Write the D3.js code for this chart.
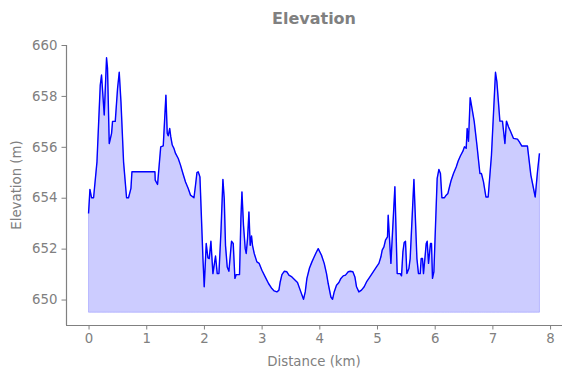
<!DOCTYPE html>
<html>
<head>
<meta charset="utf-8">
<script src="https://cdn.jsdelivr.net/npm/d3@7"></script>
<style>
  body { margin: 0; background: #fff; }
  svg text { font-family: "DejaVu Sans", sans-serif; fill: #808080; }
</style>
</head>
<body>
<div id="chart"></div>
<script>
// distance along the track (km)
const distance = [
  0, 0.024, 0.052, 0.087, 0.146, 0.203, 0.225, 0.272, 0.312, 0.329,
  0.359, 0.399, 0.416, 0.463, 0.503, 0.532, 0.562, 0.607, 0.659, 0.693,
  0.735, 0.752, 1.151, 1.156, 1.196, 1.251, 1.295, 1.341, 1.364, 1.381,
  1.407, 1.425, 1.451, 1.480, 1.508, 1.555, 1.594, 1.636, 1.681, 1.728,
  1.768, 1.827, 1.854, 1.879, 1.901, 1.931, 1.983, 2.005, 2.040, 2.069,
  2.092, 2.121, 2.156, 2.201, 2.231, 2.260, 2.295, 2.329, 2.352, 2.374,
  2.404, 2.433, 2.478, 2.508, 2.537, 2.560, 2.617, 2.641, 2.659, 2.686,
  2.716, 2.733, 2.756, 2.780, 2.802, 2.825, 2.842, 2.872, 2.918, 2.958,
  3.005, 3.062, 3.120, 3.178, 3.218, 3.265, 3.300, 3.322, 3.352, 3.392,
  3.438, 3.473, 3.525, 3.582, 3.622, 3.669, 3.726, 3.756, 3.785, 3.830,
  3.872, 3.912, 3.946, 3.981, 4.038, 4.085, 4.125, 4.154, 4.201, 4.229,
  4.258, 4.298, 4.340, 4.374, 4.414, 4.454, 4.501, 4.536, 4.582, 4.617,
  4.645, 4.686, 4.731, 4.778, 4.818, 4.877, 4.934, 4.991, 5.033, 5.068,
  5.090, 5.120, 5.147, 5.182, 5.194, 5.241, 5.310, 5.350, 5.402, 5.425,
  5.449, 5.471, 5.494, 5.518, 5.553, 5.575, 5.640, 5.692, 5.719, 5.749,
  5.766, 5.789, 5.806, 5.830, 5.853, 5.870, 5.893, 5.927, 5.945, 5.962,
  5.986, 6.043, 6.073, 6.100, 6.125, 6.170, 6.199, 6.229, 6.257, 6.286,
  6.326, 6.373, 6.407, 6.447, 6.489, 6.516, 6.546, 6.563, 6.586, 6.615,
  6.685, 6.732, 6.784, 6.811, 6.846, 6.888, 6.927, 6.984, 7.054, 7.078,
  7.130, 7.175, 7.217, 7.244, 7.279, 7.321, 7.366, 7.435, 7.465, 7.511,
  7.608, 7.667, 7.702, 7.742, 7.782, 7.816
];

// elevation (m)
const elevation = [
  653.38, 654.33, 654.0, 654.0, 655.41, 658.43, 658.82, 657.25, 659.5, 659.08,
  656.13, 656.53, 657.0, 657.0, 658.3, 658.93, 657.77, 655.41, 654.0, 654.0,
  654.37, 655.02, 655.02, 654.69, 654.52, 656.0, 656.04, 658.03, 656.53, 656.43,
  656.72, 656.4, 656.07, 655.94, 655.74, 655.54, 655.28, 654.95, 654.62, 654.36,
  654.10, 654.0, 654.49, 654.99, 655.02, 654.82, 651.61, 650.50, 652.2, 651.64,
  651.61, 652.29, 651.02, 651.71, 651.02, 651.02, 652.66, 654.72, 653.97, 652.13,
  651.28, 651.11, 652.29, 652.2, 650.83, 650.98, 650.98, 653.19, 654.23, 652.92,
  652.0, 651.81, 652.4, 653.44, 652.13, 652.5, 652.13, 651.81, 651.48, 651.42,
  651.15, 650.89, 650.63, 650.43, 650.34, 650.30, 650.37, 650.69, 650.98, 651.11,
  651.09, 650.96, 650.89, 650.76, 650.67, 650.37, 650.01, 650.30, 650.83, 651.24,
  651.48, 651.68, 651.85, 652.0, 651.74, 651.42, 651.02, 650.63, 650.10, 650.01,
  650.30, 650.56, 650.67, 650.83, 650.93, 650.96, 651.09, 651.11, 651.09, 650.89,
  650.50, 650.30, 650.37, 650.50, 650.69, 650.89, 651.09, 651.28, 651.42, 651.68,
  651.94, 652.07, 652.33, 652.46, 653.31, 651.42, 654.43, 651.02, 651.02, 650.93,
  651.87, 652.24, 652.29, 651.02, 651.22, 651.61, 654.72, 651.61, 651.02, 651.02,
  651.61, 651.61, 651.02, 651.61, 652.2, 652.29, 651.42, 652.2, 652.2, 650.83,
  651.09, 654.76, 655.11, 654.95, 654.0, 654.0, 654.10, 654.17, 654.43, 654.69,
  654.95, 655.21, 655.44, 655.65, 655.83, 656.0, 655.94, 656.72, 656.22, 657.93,
  657.0, 656.07, 654.95, 654.95, 654.62, 654.03, 654.03, 655.67, 658.93, 658.56,
  657.01, 657.01, 656.13, 657.01, 656.79, 656.57, 656.33, 656.30, 656.20, 656.03,
  656.03, 654.89, 654.49, 654.03, 655.02, 655.74
];

const xTicks = [0, 1, 2, 3, 4, 5, 6, 7, 8];
const yTicks = [650, 652, 654, 656, 658, 660];
const baseLevel = 649.5;

const points = distance.map((d, i) => ({dist: d, elev: elevation[i]}));

const width = 571, height = 378;
const margin = {top: 45, right: 9, bottom: 53, left: 66};
const fontSize = '13.3px';

const svg = d3.select('#chart')
  .append('svg')
    .attr('width', width)
    .attr('height', height);

// matplotlib-like 5% padding on x
const xMax = d3.max(distance);
const pad = xMax * 0.05;

const x = d3.scaleLinear()
  .domain([-pad, xMax + pad])
  .range([margin.left, width - margin.right]);

const y = d3.scaleLinear()
  .domain([649, 660])
  .range([height - margin.bottom, margin.top]);

// filled area under the profile
const area = d3.area()
  .x(d => x(d.dist))
  .y0(y(baseLevel))
  .y1(d => y(d.elev));

svg.append('path')
  .datum(points)
  .attr('d', area)
  .attr('fill', 'rgba(0,0,255,0.2)')
  .attr('stroke', 'rgba(0,0,255,0.2)')
  .attr('stroke-width', 1);

const line = d3.line()
  .x(d => x(d.dist))
  .y(d => y(d.elev));

svg.append('path')
  .datum(points)
  .attr('d', line)
  .attr('fill', 'none')
  .attr('stroke', '#0000ff')
  .attr('stroke-width', 1.4)
  .attr('stroke-linejoin', 'round');

// axes
const xAxis = svg.append('g')
  .attr('transform', `translate(0,${height - margin.bottom})`)
  .call(d3.axisBottom(x).tickValues(xTicks).tickFormat(d3.format('d')).tickSize(4.5).tickPadding(4));

const yAxis = svg.append('g')
  .attr('transform', `translate(${margin.left},0)`)
  .call(d3.axisLeft(y).tickValues(yTicks).tickFormat(d3.format('d')).tickSize(4.5).tickPadding(4));

[xAxis, yAxis].forEach(g => {
  g.select('.domain').attr('stroke', '#808080').attr('stroke-width', 1.2);
  g.selectAll('.tick line').attr('stroke', '#808080').attr('stroke-width', 1);
  g.selectAll('.tick text')
    .attr('fill', '#808080')
    .style('font-size', fontSize)
    .style('font-family', '"DejaVu Sans", sans-serif');
});
// no outer ticks on spines
xAxis.select('.domain').attr('d', `M${margin.left},0.5H${width - margin.right}`);
yAxis.select('.domain').attr('d', `M0.5,${margin.top}V${height - margin.bottom}`);

// labels
svg.append('text')
  .attr('x', (margin.left + width - margin.right) / 2)
  .attr('y', 366)
  .attr('text-anchor', 'middle')
  .style('font-size', fontSize)
  .text('Distance (km)');

svg.append('text')
  .attr('transform', `translate(21,${(margin.top + height - margin.bottom) / 2}) rotate(-90)`)
  .attr('text-anchor', 'middle')
  .style('font-size', fontSize)
  .text('Elevation (m)');

svg.append('text')
  .attr('x', (margin.left + width - margin.right) / 2)
  .attr('y', 24)
  .attr('text-anchor', 'middle')
  .style('font-size', '16px')
  .style('font-weight', 'bold')
  .text('Elevation');
</script>
</body>
</html>
